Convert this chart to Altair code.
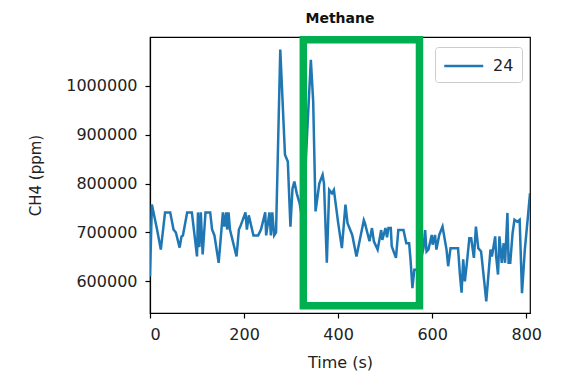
import altair as alt
import pandas as pd

# ---- data ----
time_s = [0, 4, 15, 23, 32, 43, 50, 55, 63, 67, 70, 79, 89, 100, 102, 105, 108, 112,
          118, 128, 132, 137, 146, 155, 158, 162, 164, 167, 170, 184, 189, 192, 203,
          206, 210, 220, 230, 236, 245, 247, 254, 257, 260, 264, 268, 277, 287, 293,
          298.6, 303, 307, 312, 318, 325, 335, 342, 347, 352, 360, 367, 370, 376, 381,
          387, 391, 400, 408, 415.6, 420, 430, 439, 442, 454.6, 457, 466.7, 472, 476,
          484, 491.6, 494, 500.7, 504, 507, 512, 514, 523, 528, 539, 545, 551, 554,
          558, 562, 567, 575, 581.6, 585, 588, 592, 599, 601, 606, 609, 615, 622,
          630.5, 634, 639, 655, 659, 662.5, 666, 669.5, 673, 679, 683, 688.7, 693,
          698, 704, 711, 715, 724, 727, 734, 736, 740, 743, 748, 752, 755, 760, 762.5,
          766, 771, 775, 781, 786, 791, 797, 803.6, 808]
ch4_ppm = [610000, 757000, 706000, 665000, 741000, 741000, 706000, 700000, 669000,
           692000, 694000, 741000, 741000, 651000, 741000, 670000, 741000, 655000,
           741000, 741000, 706000, 694000, 638000, 741000, 712000, 741000, 706000,
           741000, 706000, 651000, 706000, 712000, 741000, 706000, 735000, 694000,
           694000, 706000, 741000, 694000, 741000, 694000, 741000, 694000, 700000,
           1074000, 859000, 845000, 712000, 790000, 804000, 780000, 760000, 720000,
           920000, 1053000, 968000, 743000, 800000, 818000, 800000, 638000, 787000,
           780000, 787000, 720000, 668000, 757000, 719000, 695000, 651000, 665000,
           725000, 719000, 682000, 709000, 682000, 665000, 705000, 685000, 709000,
           690000, 709000, 709000, 672000, 648000, 705000, 705000, 678000, 678000,
           644000, 586000, 624000, 624000, 640000, 668000, 705000, 661000, 665000,
           695000, 675000, 695000, 665000, 695000, 712000, 665000, 631000, 668000,
           668000, 614000, 577000, 645000, 600000, 630000, 688000, 688000, 648000,
           712000, 668000, 661000, 597000, 559000, 665000, 651000, 692000, 651000,
           614000, 692000, 638000, 678000, 638000, 740000, 638000, 638000, 699000,
           726000, 722000, 726000, 576000, 665000, 733000, 780000]
series_name = "24"
highlight_time = [326, 573]
highlight_ch4 = [550300, 1094070]
x_ticks = [0, 200, 400, 600, 800]
y_ticks = [600000, 700000, 800000, 900000, 1000000]

df = pd.DataFrame({"t": time_s, "v": ch4_ppm, "run": series_name})
box = pd.DataFrame({"t0": [highlight_time[0]], "t1": [highlight_time[1]],
                    "v0": [highlight_ch4[0]], "v1": [highlight_ch4[1]]})

FONT = "DejaVu Sans"
xscale = alt.Scale(domain=[0, 808], nice=False, zero=False)
yscale = alt.Scale(domain=[535400, 1099600], nice=False, zero=False)

line = alt.Chart(df).mark_line(strokeWidth=2.5, clip=True).encode(
    x=alt.X("t:Q", scale=xscale,
            axis=alt.Axis(values=x_ticks, title="Time (s)", format="d")),
    y=alt.Y("v:Q", scale=yscale,
            axis=alt.Axis(values=y_ticks, title="CH4 (ppm)", format="d")),
    color=alt.Color("run:N", scale=alt.Scale(range=["#1f77b4"]),
                    legend=alt.Legend(orient="none", legendX=285, legendY=10,
                                      title=None, symbolType="M-1,0H3",
                                      symbolStrokeWidth=2.5, symbolSize=380,
                                      labelFontSize=16, labelFont=FONT,
                                      labelColor="#222222", labelOffset=28,
                                      padding=8, strokeColor="#cccccc",
                                      fillColor="white", cornerRadius=3)),
)

rect = alt.Chart(box).mark_rect(fillOpacity=0, stroke="#00b050", strokeWidth=7.5).encode(
    x=alt.X("t0:Q", scale=xscale),
    x2="t1:Q",
    y=alt.Y("v0:Q", scale=yscale),
    y2="v1:Q",
)

chart = alt.layer(line, rect).properties(
    width=380, height=276,
    autosize="none",
    background="white",
    padding={"left": 150, "top": 37, "right": 32, "bottom": 63},
    title=alt.Title("Methane", font=FONT, fontSize=14, fontWeight="bold",
                    color="#111111", offset=10, anchor="middle"),
).configure_view(
    stroke="black", strokeWidth=1.2
).configure_axis(
    labelFont=FONT, labelFontSize=16, labelColor="#222222",
    titleFont=FONT, titleFontSize=16, titleFontWeight="normal", titleColor="#222222",
    tickColor="black", domainColor="black", tickSize=5,
    grid=False, domainWidth=1.2, tickWidth=1.2,
).configure_axisX(
    labelPadding=8, titlePadding=12,
).configure_axisY(
    labelPadding=8, titlePadding=22, titleFontSize=15,
)

chart.save("out.html", embed_options={"renderer": "svg", "actions": False})
